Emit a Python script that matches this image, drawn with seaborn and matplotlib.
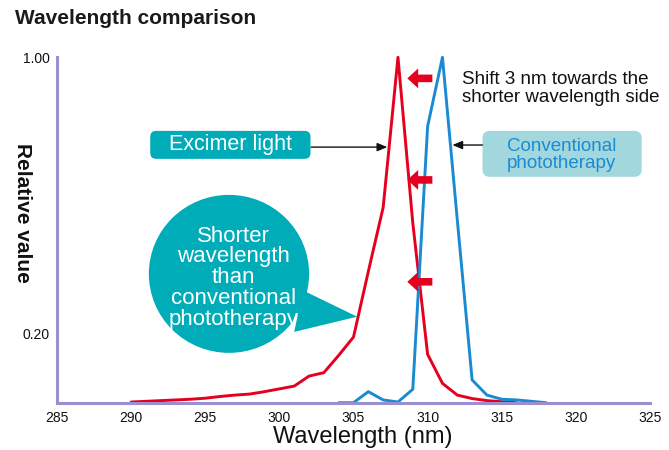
import matplotlib
matplotlib.use("Agg")
import matplotlib.pyplot as plt
from matplotlib.patches import Ellipse, Polygon, FancyBboxPatch
import pandas as pd
import seaborn as sns

# spectra (wavelength in nm, relative value)
excimer_nm = [290, 291, 292, 293, 294, 295, 296, 297, 298, 299, 300, 301, 302, 303,
              304, 305, 306, 307, 308, 309, 310, 311, 312, 313, 314, 315, 316]
excimer_val = [0.002, 0.004, 0.006, 0.008, 0.010, 0.013, 0.018, 0.022, 0.025, 0.032,
               0.040, 0.048, 0.077, 0.087, 0.137, 0.190, 0.380, 0.565, 1.000, 0.520,
               0.140, 0.056, 0.022, 0.012, 0.006, 0.003, 0.000]
conv_nm = [304, 305, 306, 307, 308, 309, 310, 311, 312, 313, 314, 315, 316, 317, 318]
conv_val = [0.000, 0.000, 0.032, 0.008, 0.002, 0.039, 0.800, 1.000, 0.530, 0.066,
            0.022, 0.010, 0.008, 0.004, 0.000]

x_ticks = [285, 290, 295, 300, 305, 310, 315, 320, 325]
y_ticks = [0.1, 0.2, 0.3, 0.4, 0.5, 0.6, 0.7, 0.8, 0.9, 1.0]
y_labels = ["", "0.20", "", "", "", "", "", "", "", "1.00"]

RED = "#e60020"
BLUE = "#1a8bd2"
TEAL = "#00acb8"
LIGHT_TEAL = "#a3d7de"
PURPLE = "#9c8fcf"

df = pd.concat([
    pd.DataFrame({"nm": excimer_nm, "val": excimer_val, "src": "Excimer light"}),
    pd.DataFrame({"nm": conv_nm, "val": conv_val, "src": "Conventional phototherapy"}),
])

sns.set_style("white")
plt.rcParams["font.family"] = ["Liberation Sans", "DejaVu Sans"]

fig = plt.figure(figsize=(6.69, 4.5), dpi=100)
ax = fig.add_axes([57 / 669, 1 - 402.7 / 450, 593 / 669, 345.4 / 450])

sns.lineplot(data=df, x="nm", y="val", hue="src",
             palette={"Excimer light": RED, "Conventional phototherapy": BLUE},
             linewidth=2.1, legend=False, ax=ax)
for ln in ax.lines:
    ln.set_clip_on(False)

ax.set_xlim(285, 325)
ax.set_ylim(0, 1.0)
ax.set_xticks(x_ticks)
ax.set_yticks(y_ticks)
ax.set_yticklabels(y_labels)
ax.tick_params(axis="both", direction="in", length=3, width=0.9, color="#333333",
               labelsize=10, labelcolor="#111111")
ax.tick_params(axis="x", pad=6)
ax.tick_params(axis="y", pad=5)
for s in ["top", "right"]:
    ax.spines[s].set_visible(False)
for s in ["left", "bottom"]:
    ax.spines[s].set_color(PURPLE)
    ax.spines[s].set_linewidth(2.2)

ax.set_xlabel("Wavelength (nm)", fontsize=17, color="#111111", va="center")
ax.xaxis.set_label_coords(0.515, -0.1)
ax.set_ylabel("Relative value", fontsize=15, fontweight="bold", rotation=270,
              color="#111111", va="center")
ax.yaxis.set_label_coords(-0.059, 0.55)
fig.text(0.022, 1 - 18 / 450, "Wavelength comparison", fontsize=15,
         fontweight="bold", color="#1a1a1a", va="center")

# aspect of data units per pixel, for round shapes
asp = (1.0 / 345.4) / (40 / 593)

# red shift arrows
for yv in [0.939, 0.645, 0.350]:
    ax.annotate("", xy=(308.63, yv), xytext=(310.32, yv),
                arrowprops=dict(arrowstyle="simple,head_length=0.6,head_width=1.1,tail_width=0.42",
                                color=RED, lw=0, mutation_scale=13, shrinkA=0, shrinkB=0))
ax.text(312.35, 0.91, "Shift 3 nm towards the\nshorter wavelength side",
        fontsize=13.5, color="#111111", va="center", ha="left", linespacing=1.12)

# Excimer light label
ax.add_patch(FancyBboxPatch((291.29, 0.706), 10.81, 0.081,
                            boxstyle="round,pad=0,rounding_size=0.4",
                            mutation_aspect=asp, fc=TEAL, ec="none"))
ax.text(296.7, 0.748, "Excimer light", fontsize=15.5, color="white",
        ha="center", va="center")
ax.annotate("", xy=(307.28, 0.74), xytext=(302.14, 0.74),
            arrowprops=dict(arrowstyle="-|>,head_length=0.6,head_width=0.25",
                            color="#111111", lw=1, mutation_scale=10,
                            shrinkA=0, shrinkB=0))

# Conventional phototherapy label
ax.add_patch(FancyBboxPatch((313.70, 0.654), 10.74, 0.133,
                            boxstyle="round,pad=0,rounding_size=0.5",
                            mutation_aspect=asp, fc=LIGHT_TEAL, ec="none"))
ax.text(319.05, 0.718, "Conventional\nphototherapy", fontsize=13.5, color=BLUE,
        ha="center", va="center", linespacing=1.0)
ax.annotate("", xy=(311.67, 0.746), xytext=(313.70, 0.746),
            arrowprops=dict(arrowstyle="-|>,head_length=0.6,head_width=0.25",
                            color="#111111", lw=1, mutation_scale=10,
                            shrinkA=0, shrinkB=0))

# speech bubble
ax.add_patch(Ellipse((296.6, 0.373), 160 / 14.8, 158 / 345.4, fc=TEAL, ec="none",
                     zorder=3))
ax.add_patch(Polygon([(301.6, 0.325), (305.25, 0.249), (301.0, 0.205)], closed=True,
                     fc=TEAL, ec="none", zorder=3))
ax.text(296.91, 0.362, "Shorter\nwavelength\nthan\nconventional\nphototherapy",
        fontsize=16, color="white", ha="center", va="center", linespacing=0.98,
        zorder=4)

fig.savefig("out.png", dpi=100)
